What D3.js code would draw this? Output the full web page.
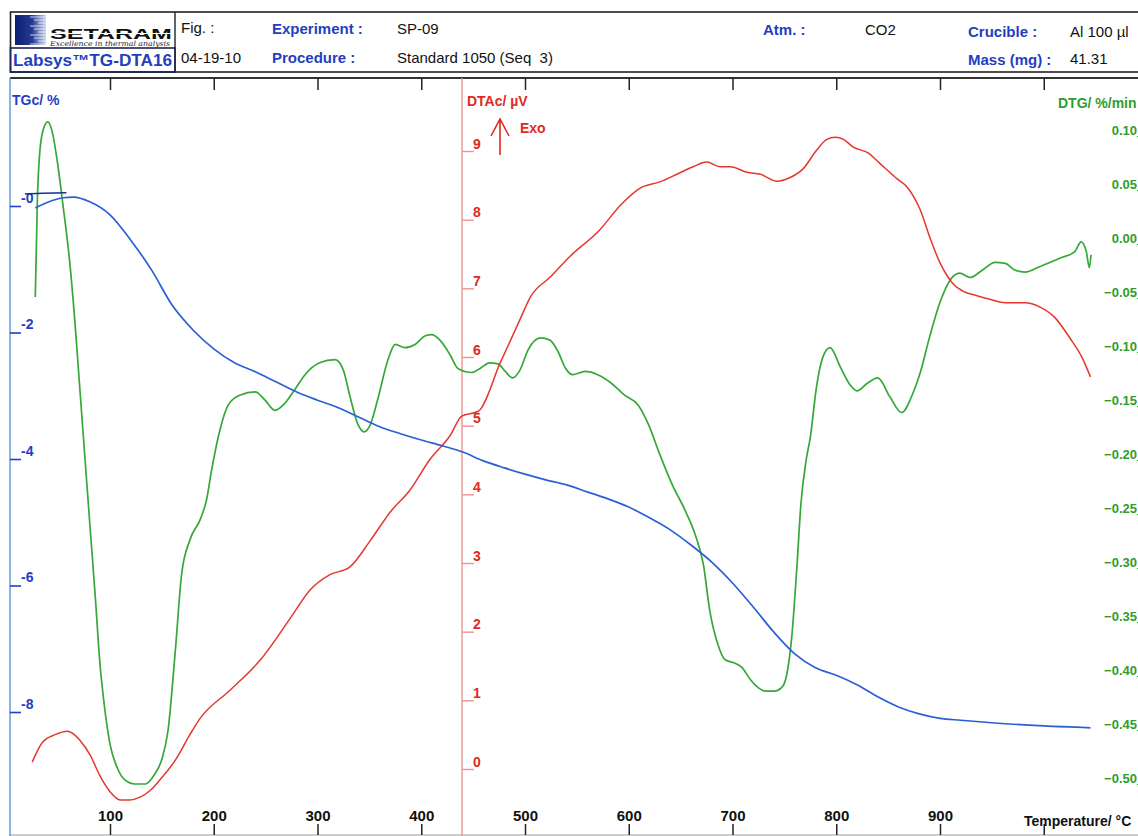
<!DOCTYPE html>
<html>
<head>
<meta charset="utf-8">
<script src="https://cdn.jsdelivr.net/npm/d3@7"></script>
<style>
  html, body { margin: 0; padding: 0; background: #fff; }
  svg { display: block; font-family: "Liberation Sans", Arial, sans-serif; }
  text { white-space: pre; }
</style>
</head>
<body>
<svg id="chart" width="1138" height="836"></svg>
<script>
// ---- Data: temperature (°C) / value pairs ----
const tgCurve = [
  [28,-0.03],[40,0.06],[55,0.13],[65,0.14],[80,0.07],[100,-0.14],[120,-0.54],[140,-1.01],
  [160,-1.57],[180,-1.96],[200,-2.26],[220,-2.48],[240,-2.62],[260,-2.78],[280,-2.94],
  [300,-3.07],[320,-3.19],[340,-3.34],[360,-3.49],[380,-3.60],[400,-3.70],[420,-3.79],
  [440,-3.89],[460,-4.03],[480,-4.14],[500,-4.24],[520,-4.33],[540,-4.41],[560,-4.52],
  [580,-4.63],[600,-4.76],[620,-4.93],[640,-5.12],[660,-5.36],[680,-5.63],[700,-5.96],
  [720,-6.34],[740,-6.74],[760,-7.08],[780,-7.30],[800,-7.42],[820,-7.57],[840,-7.76],
  [860,-7.92],[880,-8.03],[900,-8.10],[920,-8.13],[950,-8.17],[1000,-8.22],[1045,-8.25]
];
const tgStartTrace = [[18,0.19],[35,0.20],[58,0.21]];

const dtaCurve = [
  [25,0.10],[35,0.39],[47,0.50],[59,0.55],[71,0.42],[81,0.20],[90,-0.09],[100,-0.33],
  [110,-0.45],[119,-0.45],[129,-0.41],[139,-0.31],[148,-0.16],[163,0.13],[177,0.50],
  [187,0.74],[216,1.15],[245,1.59],[274,2.20],[293,2.61],[312,2.83],[331,2.94],[351,3.33],
  [370,3.74],[389,4.06],[408,4.50],[428,4.86],[439,5.14],[455,5.21],[476,5.91],[495,6.54],
  [505,6.87],[524,7.16],[543,7.46],[572,7.85],[592,8.21],[611,8.46],[630,8.55],[649,8.68],
  [662,8.77],[675,8.84],[688,8.77],[698,8.77],[714,8.69],[727,8.66],[743,8.56],[755,8.61],
  [768,8.74],[781,9.01],[791,9.17],[799,9.20],[807,9.17],[816,9.06],[831,8.97],[842,8.82],
  [859,8.59],[868,8.48],[881,8.14],[890,7.75],[900,7.37],[907,7.18],[913,7.06],[922,6.96],
  [934,6.90],[948,6.84],[963,6.79],[982,6.79],[996,6.73],[1011,6.57],[1025,6.28],
  [1037,5.99],[1045,5.71]
];

const dtgCurve = [
  [28,-0.049],[30,0.041],[32.5,0.087],[36,0.107],[40,0.113],[44,0.105],[49,0.078],[54,0.041],
  [61,-0.015],[66,-0.070],[71,-0.135],[76,-0.200],[81,-0.265],[86,-0.329],[90,-0.385],
  [95,-0.431],[100,-0.463],[107,-0.485],[114,-0.496],[124,-0.500],[134,-0.500],[143,-0.491],
  [150,-0.477],[156,-0.450],[163,-0.376],[169,-0.306],[177,-0.274],[187,-0.255],[193,-0.237],
  [198,-0.209],[206,-0.172],[214,-0.149],[225,-0.140],[240,-0.137],[249,-0.144],[259,-0.154],
  [269,-0.147],[278,-0.135],[288,-0.121],[302,-0.110],[317,-0.107],[325,-0.117],[331,-0.140],
  [339,-0.167],[345,-0.174],[351,-0.167],[358,-0.144],[368,-0.107],[375,-0.093],[384,-0.096],
  [394,-0.093],[404,-0.085],[410,-0.084],[418,-0.089],[428,-0.103],[435,-0.115],[442,-0.118],
  [449,-0.119],[457,-0.115],[466,-0.110],[474,-0.111],[481,-0.118],[488,-0.124],[495,-0.117],
  [503,-0.098],[515,-0.087],[524,-0.089],[532,-0.100],[539,-0.115],[546,-0.121],[558,-0.118],
  [570,-0.121],[582,-0.128],[596,-0.140],[609,-0.149],[619,-0.167],[630,-0.195],[642,-0.223],
  [654,-0.246],[664,-0.269],[672,-0.297],[678,-0.339],[686,-0.371],[693,-0.385],[702,-0.388],
  [709,-0.392],[717,-0.403],[725,-0.411],[732,-0.414],[740,-0.414],[748,-0.410],[752,-0.400],
  [757,-0.365],[762,-0.300],[766,-0.240],[771,-0.200],[775,-0.179],[781,-0.132],[787,-0.105],
  [794,-0.096],[804,-0.114],[813,-0.130],[820,-0.136],[830,-0.129],[840,-0.124],[852,-0.142],
  [863,-0.156],[874,-0.138],[881,-0.119],[890,-0.086],[900,-0.054],[910,-0.033],[919,-0.027],
  [929,-0.031],[941,-0.024],[953,-0.017],[963,-0.018],[972,-0.024],[982,-0.026],[996,-0.021],
  [1016,-0.013],[1030,-0.007],[1036,0.002],[1041,-0.007],[1044,-0.022],[1045.5,-0.010]
];

// ---- Tick values ----
const tempTicks = [100,200,300,400,500,600,700,800,900,1000];
const tgTicks = [0,-2,-4,-6,-8];
const dtaTicks = [0,1,2,3,4,5,6,7,8,9];
const dtgTicks = [0.10,0.05,0.00,-0.05,-0.10,-0.15,-0.20,-0.25,-0.30,-0.35,-0.40,-0.45,-0.50];

// ---- Header fields ----
const headerLabels = [
  {text:"Experiment :", x:272, y:34}, {text:"Procedure :", x:272, y:63},
  {text:"Atm. :", x:763, y:35}, {text:"Crucible :", x:968, y:37}, {text:"Mass (mg) :", x:968, y:65}
];
const headerValues = [
  {text:"Fig. :", x:181, y:33}, {text:"04-19-10", x:181, y:63},
  {text:"SP-09", x:397, y:34}, {text:"Standard 1050 (Seq  3)", x:397, y:63},
  {text:"CO2", x:865, y:35}, {text:"Al 100 µl", x:1070, y:37}, {text:"41.31", x:1070, y:64}
];

// ---- Colours ----
const C = {
  tg: "#2a5fd6", tgText: "#1f3fc4", tgAxis: "#5b93dc", tgTrace: "#1a2e9a",
  dta: "#e6372c", dtaText: "#e02a22", dtaAxis: "#f0938c",
  dtg: "#35a838", dtgText: "#2e9e2e",
  head: "#1f3fbf", ink: "#111"
};

const svg = d3.select("#chart");
const W = 1138, H = 836;
const plotTop = 78, plotBottom = 835, plotLeft = 10;

// ---- Scales ----
const x = d3.scaleLinear().domain([0, 1000]).range([6.25, 1043.75]);
const yTG = d3.scaleLinear().domain([0, -8]).range([206, 712]);
const yDTA = d3.scaleLinear().domain([0, 9]).range([769, 151]);
const yDTG = d3.scaleLinear().domain([0, -0.5]).range([244, 784]);

// ---- Header ----
const defs = svg.append("defs");
const lg = defs.append("linearGradient").attr("id", "logoGrad").attr("x1", 0).attr("x2", 1).attr("y1", 0).attr("y2", 0);
lg.append("stop").attr("offset", "0%").attr("stop-color", "#0d1f6e");
lg.append("stop").attr("offset", "55%").attr("stop-color", "#233a94");
lg.append("stop").attr("offset", "100%").attr("stop-color", "#c9d3ef");

const head = svg.append("g");
head.append("rect").attr("x", 10.5).attr("y", 12).attr("width", 1140).attr("height", 60)
  .attr("fill", "none").attr("stroke", "#222").attr("stroke-width", 1.6);
head.append("line").attr("x1", 175).attr("x2", 175).attr("y1", 12).attr("y2", 72)
  .attr("stroke", "#222").attr("stroke-width", 1.4);
head.append("rect").attr("x", 10.5).attr("y", 48).attr("width", 164.5).attr("height", 24)
  .attr("fill", "none").attr("stroke", "#1c2550").attr("stroke-width", 1.6);

// logo mark
head.append("rect").attr("x", 15).attr("y", 15).attr("width", 31).attr("height", 30).attr("fill", "url(#logoGrad)");
d3.range(17, 45, 3).forEach((yy, i) => {
  head.append("line").attr("x1", 30 + (i % 3) * 4).attr("x2", 46).attr("y1", yy).attr("y2", yy)
    .attr("stroke", "#ffffff").attr("stroke-width", 1).attr("opacity", 0.75);
});
head.append("text").attr("x", 50).attr("y", 39).attr("textLength", 122).attr("lengthAdjust", "spacingAndGlyphs")
  .attr("font-size", 15).attr("font-weight", 900).attr("fill", "#111").text("SETARAM");
head.append("line").attr("x1", 50).attr("x2", 172).attr("y1", 33.5).attr("y2", 33.5)
  .attr("stroke", "#fff").attr("stroke-width", 1.2);
head.append("text").attr("x", 50).attr("y", 46).attr("textLength", 120).attr("lengthAdjust", "spacingAndGlyphs")
  .attr("font-size", 7).attr("font-style", "italic").attr("fill", "#223").attr("font-family", "DejaVu Serif")
  .text("Excellence in thermal analysis");
head.append("text").attr("x", 13).attr("y", 66).attr("textLength", 159).attr("lengthAdjust", "spacingAndGlyphs")
  .attr("font-size", 16).attr("font-weight", "bold").attr("fill", C.head).text("Labsys™TG-DTA16");

head.selectAll("text.lbl").data(headerLabels).join("text").attr("class", "lbl")
  .attr("x", d => d.x).attr("y", d => d.y).attr("font-size", 15).attr("font-weight", "bold")
  .attr("fill", C.head).text(d => d.text);
head.selectAll("text.val").data(headerValues).join("text").attr("class", "val")
  .attr("x", d => d.x).attr("y", d => d.y).attr("font-size", 15).attr("fill", C.ink).text(d => d.text);

// ---- Plot frame ----
svg.append("line").attr("x1", plotLeft).attr("x2", W).attr("y1", plotTop).attr("y2", plotTop)
  .attr("stroke", "#333").attr("stroke-width", 2.2);
svg.append("line").attr("x1", plotLeft).attr("x2", W).attr("y1", plotBottom).attr("y2", plotBottom)
  .attr("stroke", "#999").attr("stroke-width", 1.2);
svg.append("line").attr("x1", plotLeft).attr("x2", plotLeft).attr("y1", plotTop).attr("y2", H)
  .attr("stroke", C.tgAxis).attr("stroke-width", 1.4);
svg.append("line").attr("x1", 462).attr("x2", 462).attr("y1", plotTop).attr("y2", H)
  .attr("stroke", C.dtaAxis).attr("stroke-width", 1.4);

// temperature ticks, top (no labels) and bottom (labelled)
const topAxis = svg.append("g").attr("transform", `translate(0,${plotTop})`)
  .call(d3.axisBottom(x).tickValues(tempTicks).tickSize(12).tickFormat(""));
topAxis.select(".domain").remove();
topAxis.selectAll("line").attr("stroke", "#222").attr("stroke-width", 1.5);

const botAxis = svg.append("g").attr("transform", `translate(0,${plotBottom})`)
  .call(d3.axisTop(x).tickValues(tempTicks).tickSize(11).tickPadding(3)
    .tickFormat(d => d === 1000 ? "" : d));
botAxis.select(".domain").remove();
botAxis.selectAll("line").attr("stroke", "#222").attr("stroke-width", 1.5);
botAxis.selectAll("text").attr("font-size", 15).attr("font-weight", "bold").attr("fill", "#111")
  .attr("font-family", "Liberation Sans, Arial, sans-serif");
svg.append("text").attr("x", 1024).attr("y", 826).attr("font-size", 14).attr("font-weight", "bold")
  .attr("fill", "#111").text("Temperature/ °C");

// TG axis (left)
const tgAxis = svg.append("g").attr("transform", `translate(${plotLeft},0)`)
  .call(d3.axisRight(yTG).tickValues(tgTicks).tickSize(11).tickFormat(d => d === 0 ? "-0" : d));
tgAxis.select(".domain").remove();
tgAxis.selectAll("line").attr("stroke", C.tgText).attr("stroke-width", 1.6);
tgAxis.selectAll("text").attr("x", 11).attr("y", -4).attr("dy", 0).attr("font-size", 14)
  .attr("font-weight", "bold").attr("fill", C.tgText).attr("font-family", "Liberation Sans, Arial, sans-serif");
svg.append("text").attr("x", 12).attr("y", 105).attr("font-size", 14).attr("font-weight", "bold")
  .attr("fill", C.tgText).text("TGc/ %");

// DTA axis (middle)
const dtaAxis = svg.append("g").attr("transform", "translate(462,0)")
  .call(d3.axisRight(yDTA).tickValues(dtaTicks).tickSize(12));
dtaAxis.select(".domain").remove();
dtaAxis.selectAll("line").attr("stroke", C.dtaAxis).attr("stroke-width", 1.4);
dtaAxis.selectAll("text").attr("x", 11).attr("y", -3).attr("dy", 0).attr("font-size", 14)
  .attr("font-weight", "bold").attr("fill", C.dtaText).attr("font-family", "Liberation Sans, Arial, sans-serif");
svg.append("text").attr("x", 467).attr("y", 106).attr("font-size", 14).attr("font-weight", "bold")
  .attr("fill", C.dtaText).text("DTAc/ µV");
svg.append("text").attr("x", 520).attr("y", 133).attr("font-size", 14).attr("font-weight", "bold")
  .attr("fill", C.dtaText).text("Exo");
svg.append("path").attr("d", "M500,155 L500,119 M491,136 L500,119 L509,136")
  .attr("fill", "none").attr("stroke", C.dtaText).attr("stroke-width", 1.6);

// DTG axis (right edge of the plot)
const dtgAxis = svg.append("g").attr("transform", "translate(1141,0)")
  .call(d3.axisLeft(yDTG).tickValues(dtgTicks).tickSize(4).tickFormat(d3.format(".2f")));
dtgAxis.select(".domain").remove();
dtgAxis.selectAll("line").attr("stroke", C.dtgText);
dtgAxis.selectAll("text").attr("x", -4).attr("y", -2).attr("dy", 0).attr("font-size", 13)
  .attr("font-weight", "bold").attr("fill", C.dtgText).attr("font-family", "Liberation Sans, Arial, sans-serif");
svg.append("text").attr("x", 1058).attr("y", 108).attr("font-size", 14).attr("font-weight", "bold")
  .attr("fill", C.dtgText).text("DTG/ %/min");

// ---- Curves ----
defs.append("clipPath").attr("id", "plotClip").append("rect")
  .attr("x", plotLeft).attr("y", plotTop).attr("width", W - plotLeft).attr("height", plotBottom - plotTop);
const curves = svg.append("g").attr("clip-path", "url(#plotClip)");

const mkLine = ys => d3.line().x(d => x(d[0])).y(d => ys(d[1])).curve(d3.curveMonotoneX);

curves.append("path").datum(dtgCurve).attr("d", mkLine(yDTG))
  .attr("fill", "none").attr("stroke", C.dtg).attr("stroke-width", 1.7);
curves.append("path").datum(dtaCurve).attr("d", mkLine(yDTA))
  .attr("fill", "none").attr("stroke", C.dta).attr("stroke-width", 1.5);
curves.append("path").datum(tgCurve).attr("d", mkLine(yTG))
  .attr("fill", "none").attr("stroke", C.tg).attr("stroke-width", 1.7);
curves.append("path").datum(tgStartTrace).attr("d", mkLine(yTG))
  .attr("fill", "none").attr("stroke", C.tgTrace).attr("stroke-width", 1.5);
</script>
</body>
</html>
